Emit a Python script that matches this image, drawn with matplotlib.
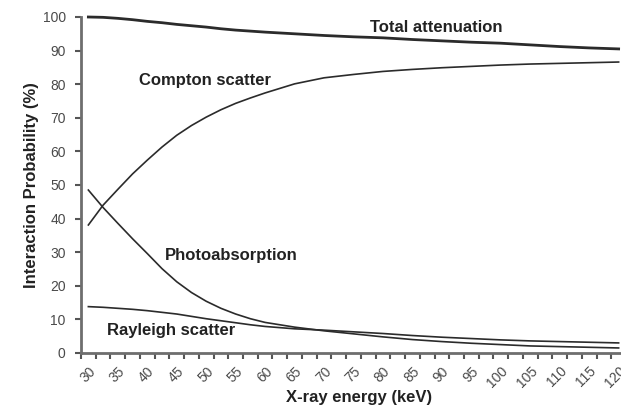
import matplotlib
matplotlib.use("Agg")
import matplotlib.pyplot as plt
import numpy as np

plt.rcParams['font.family'] = ['Liberation Sans', 'DejaVu Sans']

# Photon energy (keV) and interaction probabilities (%) in soft tissue
energy = [30, 32.5, 35, 37.5, 40, 42.5, 45, 47.5, 50, 52.5, 55, 57.5, 60,
          65, 70, 75, 80, 85, 90, 95, 100, 105, 110, 115, 120]
total_attenuation = [100.0, 99.9, 99.6, 99.2, 98.7, 98.3, 97.8, 97.4, 97.0, 96.5, 96.1, 95.8, 95.5,
                     95.0, 94.5, 94.1, 93.8, 93.3, 92.9, 92.5, 92.2, 91.7, 91.2, 90.8, 90.5]
compton = [38.1, 44.0, 48.7, 53.3, 57.4, 61.3, 64.8, 67.7, 70.2, 72.4, 74.3, 75.9, 77.4,
           80.1, 81.9, 82.9, 83.8, 84.4, 84.9, 85.3, 85.7, 86.0, 86.2, 86.4, 86.6]
photoabsorption = [48.5, 43.3, 38.6, 34.0, 29.6, 25.1, 21.2, 18.0, 15.4, 13.3, 11.6, 10.2, 9.1,
                   7.7, 6.6, 5.7, 4.8, 4.0, 3.4, 2.9, 2.5, 2.1, 1.9, 1.7, 1.5]
rayleigh = [13.8, 13.6, 13.3, 13.0, 12.6, 12.1, 11.6, 10.9, 10.2, 9.6, 9.0, 8.4, 7.9,
            7.2, 6.8, 6.3, 5.8, 5.2, 4.7, 4.3, 3.9, 3.6, 3.4, 3.2, 3.0]

label_ticks = list(range(30, 125, 5))
y_ticks = list(range(0, 101, 10))

fig = plt.figure(figsize=(6.21, 4.09), dpi=100)
ax = fig.add_axes([81 / 621, 56 / 409, 545 / 621, 336 / 409])

line_color = '#2b2b2b'
ax.plot(energy, total_attenuation, color=line_color, lw=2.0, clip_on=False)
ax.plot(energy, compton, color=line_color, lw=1.2, clip_on=False)
ax.plot(energy, photoabsorption, color=line_color, lw=1.2, clip_on=False)
ax.plot(energy, rayleigh, color=line_color, lw=1.2, clip_on=False)

ax.set_xlim(28.75, 121.25)
ax.set_ylim(0, 100)

for side in ('top', 'right'):
    ax.spines[side].set_visible(False)
for side in ('left', 'bottom'):
    ax.spines[side].set_color('#6e6e6e')
    ax.spines[side].set_linewidth(2.0)

# tick marks sit between categories; labels sit on them
ax.set_xticks(np.arange(28.75, 121.3, 2.5))
ax.set_xticklabels([])
ax.set_xticks(label_ticks, minor=True)
ax.set_xticklabels([str(v) for v in label_ticks], minor=True, rotation=45,
                   ha='right', va='top', rotation_mode='anchor')
ax.tick_params(axis='x', which='major', length=4, width=1.5, color='#555555', direction='out')
ax.tick_params(axis='x', which='minor', length=0, pad=8, labelsize=10, labelcolor='#4a4a4a')

ax.set_yticks(y_ticks)
ax.tick_params(axis='y', length=4, width=1.5, color='#555555', direction='out',
               pad=7, labelsize=10, labelcolor='#4a4a4a')

ax.set_xlabel('X-ray energy (keV)', fontsize=12, fontweight='bold', color='#222222')
ax.set_ylabel('Interaction Probability (%)', fontsize=12, fontweight='bold', color='#222222')
ax.xaxis.set_label_coords(0.51, -0.131)
ax.yaxis.set_label_coords(-0.09, 0.5)
ax.xaxis.label.set_va('center')
ax.yaxis.label.set_va('center')

text_kw = dict(fontsize=12, fontweight='bold', color='#222222', ha='center', va='center')
ax.text(89.1, 97.0, 'Total attenuation', **text_kw)
ax.text(49.8, 81.2, 'Compton scatter', **text_kw)
ax.text(54.2, 29.0, 'Photoabsorption', **text_kw)
ax.text(44.0, 6.6, 'Rayleigh scatter', **text_kw)

fig.savefig('out.png', dpi=100)
